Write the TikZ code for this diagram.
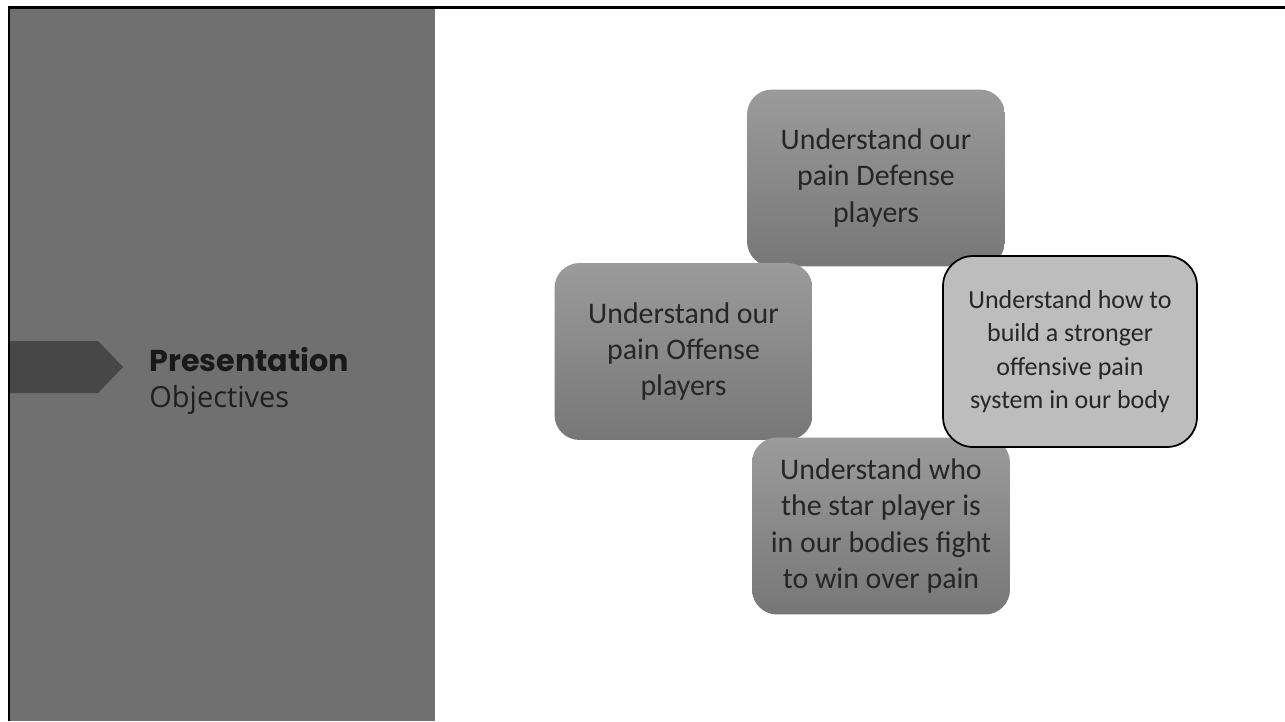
\documentclass[tikz,border=0pt]{standalone}
\usepackage{fontspec}
\setmainfont{Carlito}
\newfontfamily\headfont{Poppins}
\newfontfamily\subfont{Open Sans}
\usepackage{tikz}
\usetikzlibrary{positioning}

\definecolor{panelgray}{HTML}{707070}
\definecolor{tabgray}{HTML}{474747}
\definecolor{boxtop}{HTML}{9B9B9B}
\definecolor{boxbot}{HTML}{777777}
\definecolor{boxlight}{HTML}{BDBDBD}
\definecolor{boxtext}{HTML}{262626}

\begin{document}
\begin{tikzpicture}[x=0.02cm,y=-0.02cm]
	\tikzstyle{goal}=[rectangle, rounded corners=0.5cm, top color=boxtop, bottom color=boxbot, draw=none,
		minimum width=5.16cm, minimum height=3.54cm, align=center, text=boxtext,
		font=\fontsize{17}{20.6}\selectfont]
	\tikzstyle{goal hi}=[rectangle, rounded corners=0.6cm, fill=boxlight, draw=black, line width=1pt,
		minimum width=5.08cm, minimum height=3.82cm, align=center, text=boxtext,
		font=\fontsize{14.8}{19}\selectfont]

	\useasboundingbox (0,0) rectangle (1285,721);
	\fill[white] (0,0) rectangle (1285,721);

	% side panel and frame
	\fill[panelgray] (10,9) rectangle (435,721);
	\draw[black, line width=1.5pt] (9,721) -- (9,7.5) -- (1285,7.5);
	\fill[tabgray] (10,341) -- (98,341) -- (123,367) -- (98,393) -- (10,393) -- cycle;

	\node[anchor=base west, inner sep=0pt, text=black!90, font=\headfont\bfseries\fontsize{17.2}{21}\selectfont] (title) at (149,371) {Presentation};
	\node[anchor=base west, inner sep=0pt, text=black!88, font=\subfont\fontsize{16.5}{19}\selectfont] (subtitle) at (149,407) {Objectives};

	% objective boxes
	\node[goal] (defense) at (876,178) {Understand our\\pain Defense\\players};
	\node[goal] (offense) at (683.5,351.5) {Understand our\\pain Offense\\players};
	\node[goal] (star) at (881,526) {Understand who\\the star player is\\in our bodies fight\\to win over pain};
	\node[goal hi] (build) at (1070,351.5) {Understand how to\\build a stronger\\offensive pain\\system in our body};
\end{tikzpicture}
\end{document}
